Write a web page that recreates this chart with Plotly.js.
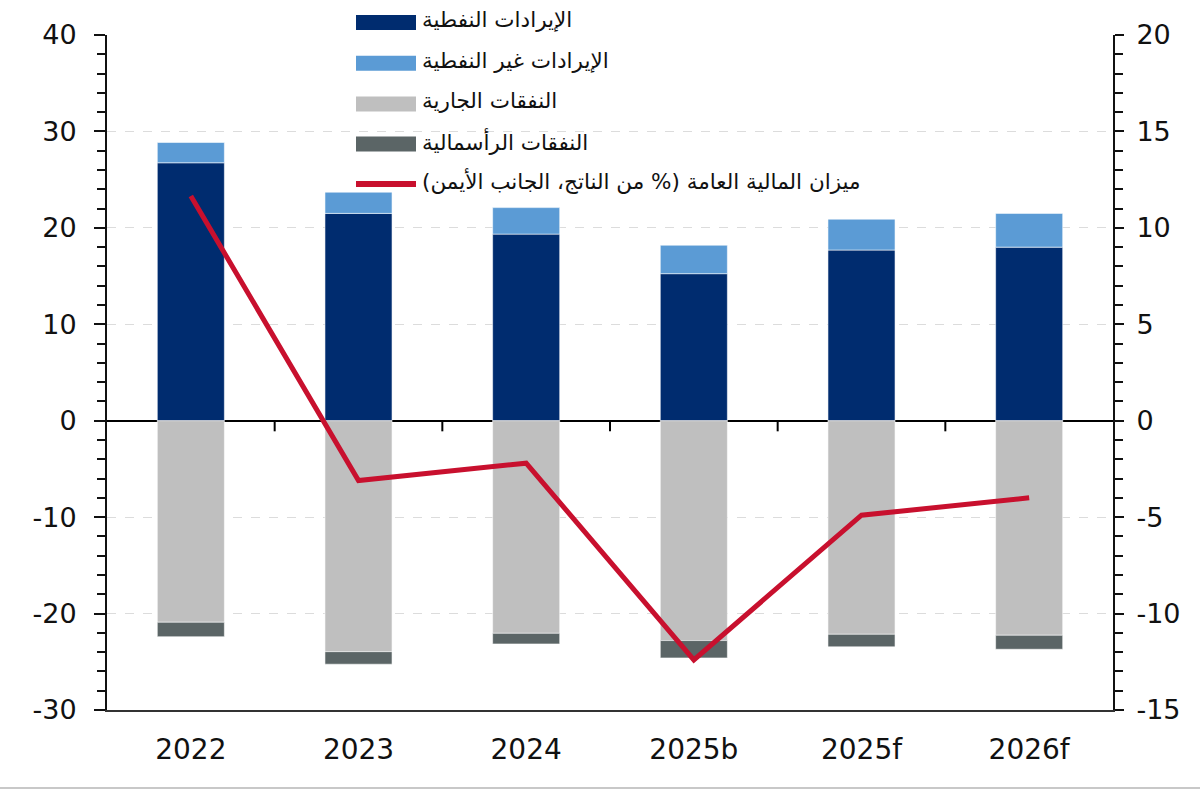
<!DOCTYPE html>
<html>
<head>
<meta charset="utf-8">
<script src="https://cdn.plot.ly/plotly-3.0.1.min.js"></script>
<style>html,body{margin:0;padding:0;background:#fff;}#chart{width:1200px;height:790px;}</style>
</head>
<body>
<div id="chart"></div>
<script>
// ---- data ----
const years = ["2022", "2023", "2024", "2025b", "2025f", "2026f"];
const oilRevenue = [26.75, 21.5, 19.35, 15.25, 17.7, 18.0];
const nonOilRevenue = [2.1, 2.2, 2.75, 2.95, 3.2, 3.5];
const currentSpending = [-20.9, -23.95, -22.05, -22.8, -22.15, -22.25];
const capitalSpending = [-1.5, -1.3, -1.1, -1.8, -1.3, -1.45];
const fiscalBalance = [11.65, -3.1, -2.2, -12.4, -4.9, -4.0];

const leftTicks = [-30, -20, -10, 0, 10, 20, 30, 40];
const leftTickText = ["-30", "-20", "-10", "0", "10", "20", "30", "40"];
const rightTicks = [-15, -10, -5, 0, 5, 10, 15, 20];
const rightTickText = ["-15", "-10", "-5", "0", "5", "10", "15", "20"];

const names = [
  "الإيرادات النفطية",
  "الإيرادات غير النفطية",
  "النفقات الجارية",
  "النفقات الرأسمالية",
  "ميزان المالية العامة (% من الناتج، الجانب الأيمن)"
];
const colors = ["#002C6F", "#5B9BD5", "#BFBFBF", "#5B6566", "#C8102E"];

// ---- layout geometry (pixels) ----
const W = 1200, H = 790;
const L = 107, R = 1113, T = 35, B = 710;
const px = x => (x - L) / (R - L);
const py = y => (B - y) / (B - T);

const edge = {color: "rgba(255,255,255,0.55)", width: 1};
const traces = [
  {type: "bar", x: years, y: oilRevenue, name: names[0], marker: {color: colors[0], line: edge}, yaxis: "y"},
  {type: "bar", x: years, y: nonOilRevenue, name: names[1], marker: {color: colors[1], line: edge}, yaxis: "y"},
  {type: "bar", x: years, y: currentSpending, name: names[2], marker: {color: colors[2], line: edge}, yaxis: "y"},
  {type: "bar", x: years, y: capitalSpending, name: names[3], marker: {color: colors[3], line: edge}, yaxis: "y"},
  {type: "scatter", mode: "lines", x: years, y: fiscalBalance, name: names[4], line: {color: colors[4], width: 5}, yaxis: "y2"}
];

// custom legend
const shapes = [];
const annotations = [];
const rowY = [22.5, 63.3, 104, 144, 184];
for (let i = 0; i < 5; i++) {
  if (i < 4) {
    shapes.push({type: "rect", xref: "paper", yref: "paper",
      x0: px(356), x1: px(416), y0: py(rowY[i] - 7.5), y1: py(rowY[i] + 7.5),
      fillcolor: colors[i], line: {width: 0}});
  } else {
    shapes.push({type: "line", xref: "paper", yref: "paper",
      x0: px(356), x1: px(416), y0: py(rowY[i]), y1: py(rowY[i]),
      line: {color: colors[i], width: 6}});
  }
  annotations.push({xref: "paper", yref: "paper", x: px(420), y: py(rowY[i] - 3),
    xanchor: "left", yanchor: "middle", showarrow: false, text: names[i],
    font: {family: "DejaVu Sans, Liberation Sans, sans-serif", size: 21.5, color: "#111"}});
}
// category-boundary ticks on the zero line
for (let k = 0; k < years.length - 1; k++) {
  shapes.push({type: "line", xref: "x", yref: "y", x0: k + 0.5, x1: k + 0.5, y0: 0, y1: -1.1,
    line: {color: "#000", width: 2}});
}
// bottom frame line
shapes.push({type: "line", xref: "paper", yref: "paper", x0: px(0), x1: px(1200), y0: py(788), y1: py(788),
  line: {color: "#c8c8c8", width: 2}});

const tickFont = {family: "DejaVu Sans, Liberation Sans, sans-serif", size: 27, color: "#111"};

const layout = {
  width: W, height: H,
  margin: {l: L, r: W - R, t: T, b: H - B, pad: 0},
  paper_bgcolor: "#fff", plot_bgcolor: "#fff",
  barmode: "relative",
  bargap: 0.6,
  showlegend: false,
  xaxis: {
    type: "category",
    showline: true, linecolor: "#333", linewidth: 2,
    ticks: "", showgrid: false, zeroline: false,
    tickfont: {family: "DejaVu Sans, Liberation Sans, sans-serif", size: 28, color: "#111"},
    ticklabelstandoff: 13
  },
  yaxis: {
    range: [-30, 40], tickmode: "array", tickvals: leftTicks, ticktext: leftTickText,
    showline: true, linecolor: "#111", linewidth: 2,
    ticks: "outside", ticklen: 11, tickwidth: 2, tickcolor: "#111",
    minor: {tickmode: "linear", tick0: 0, dtick: 2, ticks: "outside", ticklen: 8, tickwidth: 2, tickcolor: "#111", showgrid: false},
    showgrid: true, gridcolor: "#dcdcdc", griddash: "dash", gridwidth: 1,
    zeroline: true, zerolinecolor: "#000", zerolinewidth: 2,
    tickfont: tickFont, ticklabelstandoff: 12
  },
  yaxis2: {
    overlaying: "y", side: "right",
    range: [-15, 20], tickmode: "array", tickvals: rightTicks, ticktext: rightTickText,
    showline: true, linecolor: "#111", linewidth: 2,
    ticks: "outside", ticklen: 9, tickwidth: 2, tickcolor: "#111",
    minor: {tickmode: "linear", tick0: 0, dtick: 1, ticks: "outside", ticklen: 8, tickwidth: 2, tickcolor: "#111", showgrid: false},
    showgrid: false, zeroline: false,
    tickfont: tickFont, ticklabelstandoff: 7
  },
  shapes: shapes,
  annotations: annotations
};

Plotly.newPlot("chart", traces, layout, {displayModeBar: false, staticPlot: true});
</script>
</body>
</html>
